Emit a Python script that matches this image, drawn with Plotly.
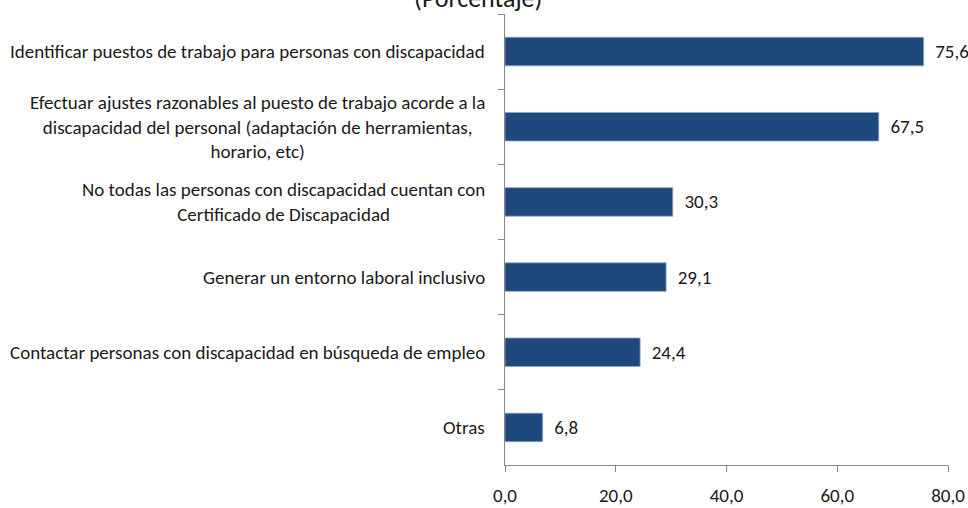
import plotly.graph_objects as go

categories = [
    "Identificar puestos de trabajo para personas con discapacidad",
    "Efectuar ajustes razonables al puesto de trabajo acorde a la<br>discapacidad del personal (adaptación de herramientas,<br>horario, etc)",
    "No todas las personas con discapacidad cuentan con<br>Certificado de Discapacidad",
    "Generar un entorno laboral inclusivo",
    "Contactar personas con discapacidad en búsqueda de empleo",
    "Otras",
]
values = [75.6, 67.5, 30.3, 29.1, 24.4, 6.8]
x_ticks = [0, 20, 40, 60, 80]
title_text = "(Porcentaje)"

FONT = "Carlito, Lato, sans-serif"
FS = 19

fig = go.Figure()
fig.add_trace(go.Bar(
    x=values,
    y=categories,
    orientation="h",
    marker=dict(color="#1F497D", line=dict(color="#8EA6C4", width=0.8)),
    texttemplate="  %{x:.1f}",
    textposition="outside",
    textfont=dict(size=FS, color="#1a1a1a", family=FONT),
    cliponaxis=False,
    hoverinfo="skip",
))

for cat in categories:
    fig.add_annotation(
        x=0, xref="x", xshift=-18, xanchor="right",
        y=cat, yref="y", yanchor="middle",
        text=cat, align="center", showarrow=False,
        font=dict(size=FS, color="#1a1a1a", family=FONT),
    )

fig.add_annotation(
    x=(478 - 505) / 443, xref="paper", y=1.035, yref="paper",
    xanchor="center", yanchor="middle",
    text=title_text, showarrow=False,
    font=dict(size=26, color="#1a1a1a", family=FONT),
)

fig.update_layout(
    width=968, height=508,
    margin=dict(l=505, r=20, t=14, b=43, autoexpand=False),
    paper_bgcolor="white", plot_bgcolor="white",
    bargap=0.62,
    separators=",.",
    showlegend=False,
    font=dict(family=FONT, size=FS, color="#1a1a1a"),
    xaxis=dict(
        range=[0, 80.0001], tickvals=x_ticks, tickformat=".1f",
        showgrid=False, zeroline=False,
        showline=True, linecolor="#868686", linewidth=1,
        ticks="outside", ticklen=6, tickcolor="#868686",
        ticklabelstandoff=7,
        tickfont=dict(size=FS, family=FONT, color="#1a1a1a"),
    ),
    yaxis=dict(
        autorange="reversed", showticklabels=False,
        showgrid=False, zeroline=False,
        showline=True, linecolor="#868686", linewidth=1,
        ticks="outside", ticklen=6, tickcolor="#868686",
        tickson="boundaries",
    ),
)

fig.write_html(
    "out.html",
    config={"displayModeBar": False},
    post_script="document.body.style.margin='0';document.body.style.overflow='hidden';",
)
